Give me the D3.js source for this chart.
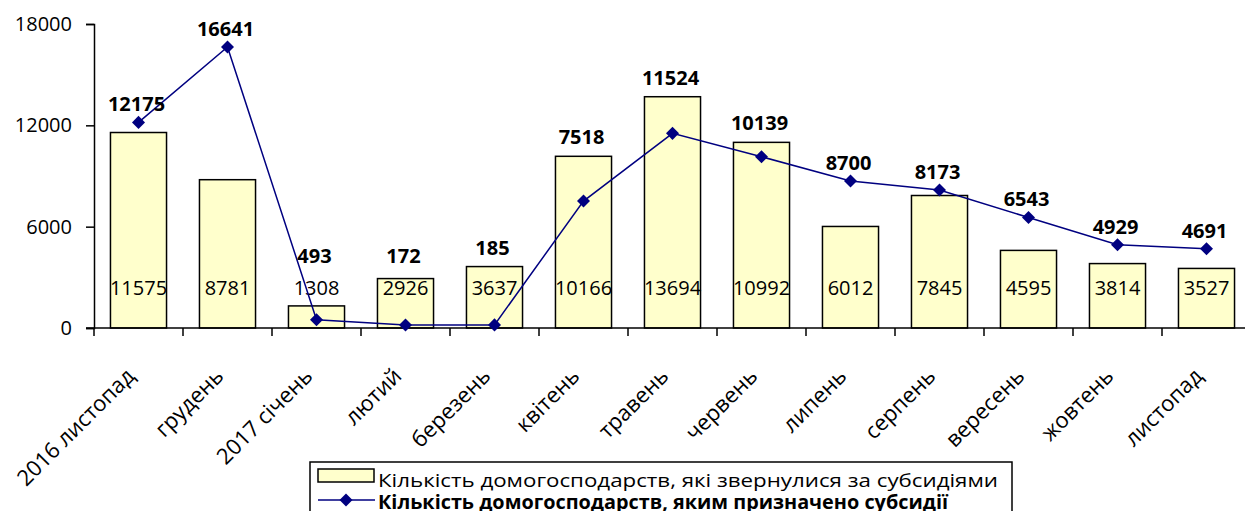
<!DOCTYPE html>
<html>
<head>
<meta charset="utf-8">
<script src="https://cdn.jsdelivr.net/npm/d3@7"></script>
<style>
  body { margin: 0; background: #fff; }
  svg { display: block; font-family: "Open Sans", sans-serif; }
</style>
</head>
<body>
<div id="chart"></div>
<script>
// Data
const categories = ['2016 листопад', 'грудень', '2017 січень', 'лютий', 'березень', 'квітень',
    'травень', 'червень', 'липень', 'серпень', 'вересень', 'жовтень', 'листопад'];
const applied = [11575, 8781, 1308, 2926, 3637, 10166, 13694, 10992, 6012, 7845, 4595, 3814, 3527];
const granted = [12175, 16641, 493, 172, 185, 7518, 11524, 10139, 8700, 8173, 6543, 4929, 4691];
const yTicks = [0, 6000, 12000, 18000];
const legendLabels = [
    'Кількість домогосподарств, які звернулися за субсидіями',
    'Кількість домогосподарств, яким призначено субсидії'
];

const width = 1245, height = 511;
const margin = { top: 24, right: 0, bottom: 183, left: 94 };

const svg = d3.select('#chart')
    .append('svg')
    .attr('width', width)
    .attr('height', height);

const x = d3.scaleBand()
    .domain(categories)
    .range([margin.left, margin.left + 89 * categories.length])
    .paddingInner(0.37)
    .paddingOuter(0.185);

const y = d3.scaleLinear()
    .domain([0, 18000])
    .range([height - margin.bottom, margin.top]);

const cx = d => x(d) + x.bandwidth() / 2;
const barLabelY = y(0) - 40;

// Bars
svg.append('g')
    .selectAll('rect')
    .data(categories)
    .join('rect')
    .attr('x', d => x(d))
    .attr('y', (d, i) => y(applied[i]))
    .attr('width', x.bandwidth())
    .attr('height', (d, i) => y(0) - y(applied[i]))
    .attr('fill', '#ffffcc')
    .attr('stroke', '#000')
    .attr('stroke-width', 1.5);

// Bar value labels
svg.append('g')
    .selectAll('text')
    .data(categories)
    .join('text')
    .attr('x', d => cx(d))
    .attr('y', barLabelY)
    .attr('dy', '0.35em')
    .attr('text-anchor', 'middle')
    .attr('font-size', 20)
    .attr('fill', '#000')
    .text((d, i) => applied[i]);

// Y axis
const yAxis = svg.append('g')
    .attr('transform', `translate(${margin.left},0)`)
    .call(d3.axisLeft(y).tickValues(yTicks).tickSize(8).tickPadding(14).tickFormat(d3.format('d')));
yAxis.select('.domain').attr('stroke', '#000').attr('stroke-width', 1.5);
yAxis.selectAll('.tick line').attr('stroke', '#000').attr('stroke-width', 1.5);
yAxis.selectAll('.tick text')
    .attr('font-size', 20)
    .attr('font-family', '"Open Sans", sans-serif')
    .attr('fill', '#000');

// X axis line and ticks at category boundaries
const xg = svg.append('g');
xg.append('line')
    .attr('x1', margin.left - 8)
    .attr('x2', width)
    .attr('y1', y(0))
    .attr('y2', y(0))
    .attr('stroke', '#000')
    .attr('stroke-width', 1.5);
xg.selectAll('line.tk')
    .data(categories)
    .join('line')
    .attr('class', 'tk')
    .attr('x1', d => x(d) - x.step() * x.paddingInner() / 2)
    .attr('x2', d => x(d) - x.step() * x.paddingInner() / 2)
    .attr('y1', y(0))
    .attr('y2', y(0) + 8)
    .attr('stroke', '#000')
    .attr('stroke-width', 1.5);

// Rotated category labels
xg.selectAll('text')
    .data(categories)
    .join('text')
    .attr('transform', d => `translate(${cx(d) - 8},${y(0) + 44}) rotate(-45)`)
    .attr('text-anchor', 'end')
    .attr('dy', '0.35em')
    .attr('font-size', 22)
    .attr('fill', '#000')
    .text(d => d);

// Line series
const line = d3.line()
    .x(d => cx(d.c))
    .y(d => y(d.v));
const pts = categories.map((c, i) => ({ c, v: granted[i], bar: applied[i] }));

svg.append('path')
    .datum(pts)
    .attr('d', line)
    .attr('fill', 'none')
    .attr('stroke', '#000080')
    .attr('stroke-width', 1.5);

const diamond = d3.symbol().type(d3.symbolSquare).size(85);
svg.append('g')
    .selectAll('path')
    .data(pts)
    .join('path')
    .attr('d', diamond)
    .attr('transform', d => `translate(${cx(d.c)},${y(d.v)}) rotate(45)`)
    .attr('fill', '#000080');

// Line labels sit above the marker, the bar and the bar label, whichever is highest
svg.append('g')
    .selectAll('text')
    .data(pts)
    .join('text')
    .attr('x', d => cx(d.c) - 2)
    .attr('y', d => Math.min(y(d.v) + 1, y(d.bar), barLabelY - 13) - 12)
    .attr('text-anchor', 'middle')
    .attr('font-size', 20)
    .attr('font-weight', 'bold')
    .attr('fill', '#000')
    .text(d => d.v);

// Legend
const lg = svg.append('g');
lg.append('rect')
    .attr('x', 310)
    .attr('y', 462)
    .attr('width', 702)
    .attr('height', 60)
    .attr('fill', '#fff')
    .attr('stroke', '#000')
    .attr('stroke-width', 1.5);
lg.append('rect')
    .attr('x', 318)
    .attr('y', 469)
    .attr('width', 56)
    .attr('height', 13)
    .attr('fill', '#ffffcc')
    .attr('stroke', '#000')
    .attr('stroke-width', 1.5);
lg.append('line')
    .attr('x1', 318).attr('x2', 375)
    .attr('y1', 500).attr('y2', 500)
    .attr('stroke', '#000080')
    .attr('stroke-width', 1.5);
lg.append('path')
    .attr('d', diamond)
    .attr('transform', 'translate(346,500) rotate(45)')
    .attr('fill', '#000080');
lg.append('text')
    .attr('x', 378)
    .attr('y', 480)
    .attr('dy', '0.35em')
    .attr('font-size', 19)
    .attr('textLength', 620)
    .attr('lengthAdjust', 'spacingAndGlyphs')
    .text(legendLabels[0]);
lg.append('text')
    .attr('x', 378)
    .attr('y', 502)
    .attr('dy', '0.35em')
    .attr('font-size', 19)
    .attr('font-weight', 'bold')
    .attr('textLength', 570)
    .attr('lengthAdjust', 'spacingAndGlyphs')
    .text(legendLabels[1]);
</script>
</body>
</html>
